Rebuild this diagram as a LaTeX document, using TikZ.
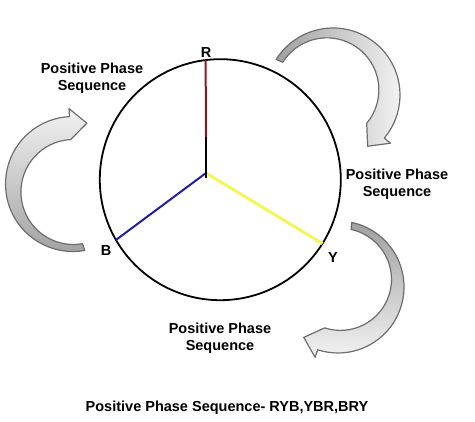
\documentclass[tikz,border=0pt]{standalone}
\usepackage{fontspec}
\setmainfont{Liberation Sans}
\usetikzlibrary{calc}
\definecolor{phasered}{RGB}{140, 25, 30}
\definecolor{phaseblue}{RGB}{35, 30, 160}
\definecolor{phaseyellow}{RGB}{245, 245, 90}
\definecolor{arrowedge}{RGB}{110, 110, 110}
\definecolor{arrowdark}{RGB}{160, 160, 160}
\definecolor{arrowlight}{RGB}{242, 242, 242}

\begin{document}
\begin{tikzpicture}[
    x=1pt, y=1pt,
    lbl/.style={font=\bfseries\fontsize{14.5}{17}\selectfont, align=center, inner sep=0pt},
    spoke/.style={line width=2pt},
    bigarr/.style={draw=arrowedge, line width=1.2pt, line join=round},
]
\useasboundingbox (0,0) rectangle (475,422);

% circle and phasors
\node[circle, draw, line width=1.8pt, minimum size=241pt, inner sep=0pt, outer sep=0pt] (circ) at (220.3,242.3) {};
\coordinate (O) at (206,249);
\coordinate (Rtail) at (206,244);
\coordinate (split) at (206,285);

\draw[line width=3pt, phaseyellow] (O) -- (circ.328.8);
\draw[spoke, phaseblue] (O) -- (circ.210.6);
\draw[spoke, phasered] (split) -- (circ.97);
\draw[spoke] (Rtail) -- (split);

\node[lbl] (R) at (206,369) {R};
\node[lbl] (B) at (106,171) {B};
\node[lbl] (Y) at (333,164.5) {Y};

% curved arrows
\coordinate (a1) at (333,327);
\coordinate (a2) at (73,238);
\coordinate (a3) at (338,135);

\draw[bigarr, left color=arrowdark, right color=arrowlight]
  ($(a1)+(148:67)$) arc[start angle=148, end angle=-40, radius=67]
  -- ($(a1)+(-40:75)$) -- ($(a1)+(-40:59.5)+(-130:17)$)
  -- ($(a1)+(-40:44)$) arc[start angle=-40, end angle=148, radius=52] -- cycle;

\draw[bigarr, top color=arrowlight, bottom color=arrowdark]
  ($(a2)+(280:67.5)$) arc[start angle=280, end angle=93, radius=67.5]
  -- ($(a2)+(93:75.5)$) -- ($(a2)+(93:60)+(3:17)$)
  -- ($(a2)+(93:44.5)$) arc[start angle=93, end angle=280, radius=52.5] -- cycle;

\draw[bigarr, top color=arrowdark, bottom color=arrowlight]
  ($(a3)+(78:66)$) arc[start angle=78, end angle=-108, radius=66]
  -- ($(a3)+(-108:74)$) -- ($(a3)+(-108:58.5)+(-198:17)$)
  -- ($(a3)+(-108:43)$) arc[start angle=-108, end angle=78, radius=51] -- cycle;

% labels
\node[lbl] (seqtl) at (92,344) {Positive Phase\\Sequence};
\node[lbl] (seqr) at (397,237.5) {Positive Phase\\Sequence};
\node[lbl] (seqb) at (220,84) {Positive Phase\\Sequence};
\node[lbl] (title) at (227,14) {Positive Phase Sequence- RYB,YBR,BRY};

\end{tikzpicture}
\end{document}
